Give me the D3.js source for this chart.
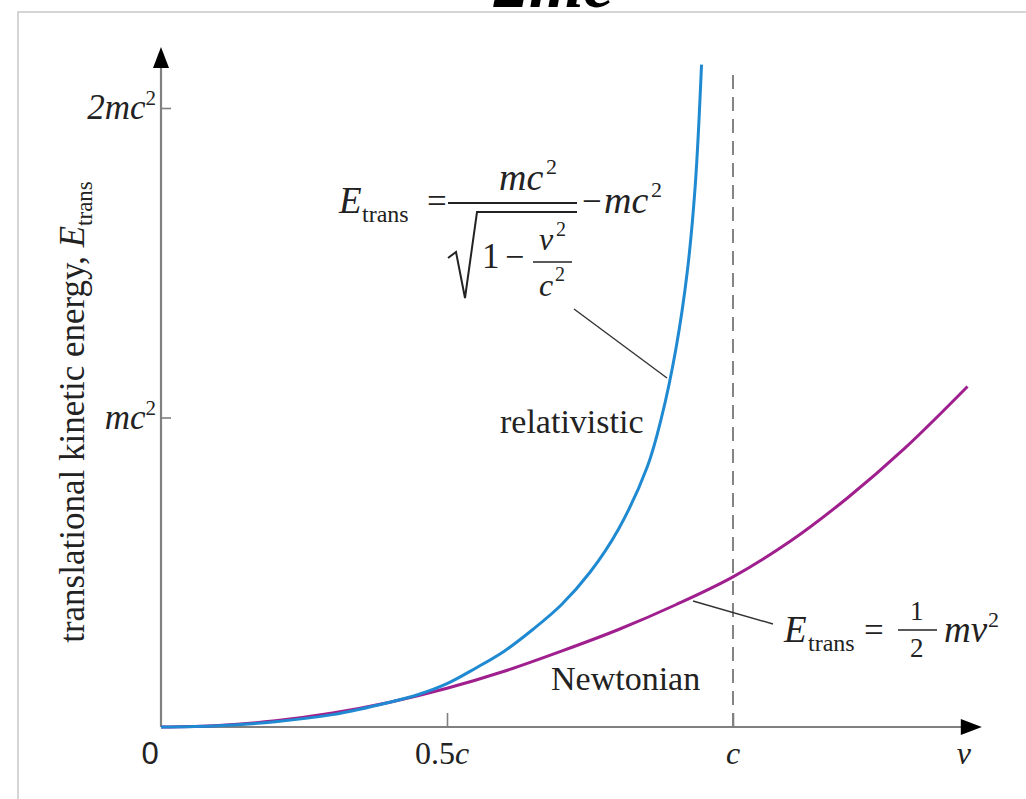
<!DOCTYPE html>
<html>
<head>
<meta charset="utf-8">
<script src="https://cdn.jsdelivr.net/npm/d3@7"></script>
<style>
  body { margin: 0; background: #fff; }
  text { font-family: "Liberation Serif", "DejaVu Serif", serif; fill: #222; }
</style>
</head>
<body>
<div id="canvas"></div>
<script>
// speed in units of c, energy in units of mc^2
const vRel = [0, 0.1, 0.2, 0.3, 0.4, 0.45, 0.5, 0.55, 0.6, 0.65, 0.7, 0.75, 0.8, 0.85, 0.875, 0.9, 0.92, 0.934, 0.945]
const eRel = [0, 0.004, 0.017, 0.040, 0.08, 0.105, 0.14, 0.19, 0.245, 0.315, 0.395, 0.50, 0.64, 0.84, 1.0, 1.22, 1.47, 1.75, 2.14]

const vNewt = [0, 0.1, 0.2, 0.3, 0.4, 0.5, 0.6, 0.7, 0.8, 0.9, 1.0, 1.1, 1.2, 1.3, 1.41]
const eNewt = [0, 0.005, 0.02, 0.045, 0.08, 0.125, 0.18, 0.245, 0.315, 0.395, 0.485, 0.60, 0.74, 0.90, 1.10]

const xTicks = [0.5, 1]
const xTickLabels = [['0.5', 'c'], ['', 'c']]
const yTicks = [1, 2]
const yTickLabels = [['', 'mc'], ['2', 'mc']]

const xMax = 1.435   // end of v axis (arrow tip)
const yMax = 2.197   // end of E axis (arrow tip)
const dashTop = 2.115
const lightSpeed = 1

const width = 1026
const height = 799

const svg = d3.select('#canvas')
  .append('svg')
    .attr('width', width)
    .attr('height', height)

const x = d3.scaleLinear().domain([0, 1]).range([161, 733])
const y = d3.scaleLinear().domain([0, 2]).range([727, 108])

// frame
svg.append('path')
  .attr('d', `M18,${height}V12H${width}`)
  .attr('fill', 'none')
  .attr('stroke', '#c8c8c8')
  .attr('stroke-width', 1.5)

// cut-off heading at the very top
svg.append('text')
  .attr('x', 494).attr('y', 7)
  .attr('font-size', 70)
  .attr('font-weight', 'bold')
  .attr('font-style', 'italic')
  .style('fill', '#000')
  .text('2mc')

// dashed line at v = c
svg.append('line')
  .attr('x1', x(lightSpeed)).attr('x2', x(lightSpeed))
  .attr('y1', y(0)).attr('y2', y(dashTop))
  .attr('stroke', '#666')
  .attr('stroke-width', 1.6)
  .attr('stroke-dasharray', '14,8')

// axes
const axisColor = '#808080'
svg.append('line')
  .attr('x1', x(0)).attr('x2', x(xMax) - 14)
  .attr('y1', y(0)).attr('y2', y(0))
  .attr('stroke', axisColor).attr('stroke-width', 2.2)
svg.append('line')
  .attr('x1', x(0)).attr('x2', x(0))
  .attr('y1', y(0)).attr('y2', y(yMax) + 14)
  .attr('stroke', axisColor).attr('stroke-width', 2.2)

svg.append('path')
  .attr('d', `M${x(xMax)},${y(0)}L${x(xMax) - 21},${y(0) - 8}L${x(xMax) - 21},${y(0) + 8}Z`)
  .attr('fill', '#000')
svg.append('path')
  .attr('d', `M${x(0)},${y(yMax)}L${x(0) - 8},${y(yMax) + 21}L${x(0) + 8},${y(yMax) + 21}Z`)
  .attr('fill', '#000')

const xAxisGenerator = d3.axisBottom(x)
  .tickValues(xTicks)
  .tickSizeInner(-14)
  .tickSizeOuter(0)
  .tickFormat('')
const xAxis = svg.append('g')
  .attr('transform', `translate(0, ${y(0)})`)
  .call(xAxisGenerator)
xAxis.select('.domain').remove()
xAxis.selectAll('.tick line').attr('stroke', axisColor).attr('stroke-width', 1.6)

const yAxisGenerator = d3.axisRight(y)
  .tickValues(yTicks)
  .tickSizeInner(10)
  .tickSizeOuter(0)
  .tickFormat('')
const yAxis = svg.append('g')
  .attr('transform', `translate(${x(0)}, 0)`)
  .call(yAxisGenerator)
yAxis.select('.domain').remove()
yAxis.selectAll('.tick line').attr('stroke', axisColor).attr('stroke-width', 1.6)

// tick labels
svg.append('text')
  .attr('x', x(0) - 11).attr('y', 764)
  .attr('text-anchor', 'middle')
  .attr('font-size', 31)
  .style('font-family', 'Liberation Sans, Arial, sans-serif')
  .text('0')

xTicks.forEach((d, i) => {
  const t = svg.append('text')
    .attr('x', x(d) - (i === 0 ? 5 : 0)).attr('y', 764)
    .attr('text-anchor', 'middle')
    .attr('font-size', 32)
  t.append('tspan').text(xTickLabels[i][0])
  t.append('tspan').attr('font-style', 'italic').text(xTickLabels[i][1])
})
svg.append('text')
  .attr('x', x(xMax) - 18).attr('y', 764)
  .attr('text-anchor', 'middle')
  .attr('font-size', 32)
  .attr('font-style', 'italic')
  .text('v')

yTicks.forEach((d, i) => {
  const t = svg.append('text')
    .attr('x', x(0) - 5).attr('y', y(d) + 11)
    .attr('text-anchor', 'end')
    .attr('font-size', 35)
    .attr('font-style', 'italic')
  t.append('tspan').text(yTickLabels[i][0] + yTickLabels[i][1])
  t.append('tspan').attr('font-size', 21).attr('dy', -14).attr('font-style', 'normal').text('2')
})

// y axis title
const yTitle = svg.append('text')
  .attr('transform', `translate(84, 412) rotate(-90)`)
  .attr('text-anchor', 'middle')
  .attr('font-size', 35)
yTitle.append('tspan').text('translational kinetic energy, ')
yTitle.append('tspan').attr('font-style', 'italic').text('E')
yTitle.append('tspan').attr('font-size', 23).attr('dy', 8).text('trans')

// curves
const line = d3.line()
  .x(d => x(d[0]))
  .y(d => y(d[1]))
  .curve(d3.curveCatmullRom.alpha(0.5))

svg.append('path')
  .datum(vNewt.map((v, i) => [v, eNewt[i]]))
  .attr('d', line)
  .attr('fill', 'none')
  .attr('stroke', '#a01f8e')
  .attr('stroke-width', 3)

svg.append('path')
  .datum(vRel.map((v, i) => [v, eRel[i]]))
  .attr('d', line)
  .attr('fill', 'none')
  .attr('stroke', '#1f8ad2')
  .attr('stroke-width', 3)

// curve labels
svg.append('text').attr('x', 500).attr('y', 433).attr('font-size', 34).text('relativistic')
svg.append('text').attr('x', 551).attr('y', 690).attr('font-size', 34).text('Newtonian')

// leader lines
svg.append('line').attr('x1', 574).attr('y1', 309).attr('x2', 667).attr('y2', 378)
  .attr('stroke', '#333').attr('stroke-width', 1.4)
svg.append('line').attr('x1', 693).attr('y1', 601).attr('x2', 773).attr('y2', 624)
  .attr('stroke', '#333').attr('stroke-width', 1.4)

// relativistic formula
const f1 = svg.append('g')
function txt(g, tx, ty, s, size, italic) {
  return g.append('text').attr('x', tx).attr('y', ty)
    .attr('font-size', size)
    .attr('font-style', italic ? 'italic' : 'normal')
    .text(s)
}
txt(f1, 339, 213, 'E', 37, true)
txt(f1, 362, 222, 'trans', 24, false)
txt(f1, 427, 213, '=', 35, false)
txt(f1, 499, 190, 'mc', 38, true)
txt(f1, 546, 174, '2', 22, false)
f1.append('line').attr('x1', 448).attr('x2', 577).attr('y1', 203).attr('y2', 203)
  .attr('stroke', '#222').attr('stroke-width', 1.8)
txt(f1, 582, 213, '−', 35, false)
txt(f1, 604, 213, 'mc', 38, true)
txt(f1, 651, 197, '2', 22, false)
f1.append('path')
  .attr('d', 'M448,258L456,252L465,298L477,212H577')
  .attr('fill', 'none').attr('stroke', '#222').attr('stroke-width', 2)
txt(f1, 482, 268, '1', 35, false)
txt(f1, 505, 268, '−', 34, false)
txt(f1, 539, 250, 'v', 32, true)
txt(f1, 556, 236, '2', 20, false)
f1.append('line').attr('x1', 533).attr('x2', 572).attr('y1', 262).attr('y2', 262)
  .attr('stroke', '#222').attr('stroke-width', 1.6)
txt(f1, 539, 296, 'c', 32, true)
txt(f1, 555, 281, '2', 20, false)

// newtonian formula
const f2 = svg.append('g')
txt(f2, 784, 642, 'E', 37, true)
txt(f2, 808, 651, 'trans', 24, false)
txt(f2, 864, 642, '=', 35, false)
txt(f2, 910, 620, '1', 27, false)
f2.append('line').attr('x1', 898).attr('x2', 937).attr('y1', 630).attr('y2', 630)
  .attr('stroke', '#222').attr('stroke-width', 1.6)
txt(f2, 910, 657, '2', 27, false)
txt(f2, 944, 642, 'mv', 37, true)
txt(f2, 988, 627, '2', 22, false)
</script>
</body>
</html>
